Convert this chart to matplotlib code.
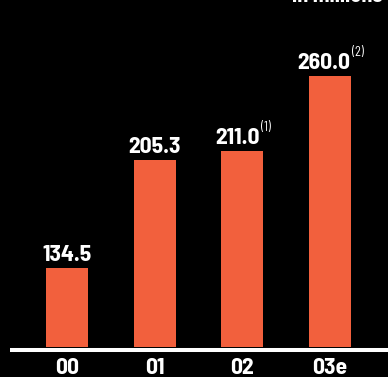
import matplotlib.pyplot as plt
from matplotlib.transforms import blended_transform_factory, offset_copy

# Data
years = ["00", "01", "02", "03e"]
values = [134.5, 205.3, 211.0, 260.0]
notes = ["", "", "(1)", "(2)"]

bar_color = "#F2603D"
font = ["Barlow Semi Condensed", "Barlow Condensed", "DejaVu Sans"]

fig = plt.figure(figsize=(3.88, 3.77), dpi=100, facecolor="black")
ax = fig.add_axes([0, 0, 1, 1], facecolor="black")
ax.set_xlim(-0.764, 3.661)
ax.set_ylim(62.96, 309.75)
ax.axis("off")

base = 82.6
x = range(len(years))
ax.bar(x, [v - base for v in values], bottom=base, width=0.48, color=bar_color)

# white baseline
ax.plot([-0.65, 3.661], [80.6, 80.6], color="white", lw=2.9, solid_capstyle="butt")

renderer = fig.canvas.get_renderer()
for i, v in enumerate(values):
    main = ax.text(i, v, f"{v:.1f}", ha="center", va="baseline",
                   fontsize=17, fontweight="bold", color="white", family=font,
                   transform=offset_copy(ax.transData, fig=fig, x=0, y=6.5, units="dots"))
    if notes[i]:
        sup = ax.text(i, v, notes[i], ha="left", va="baseline", fontsize=9,
                      color="white", family=font,
                      transform=offset_copy(ax.transData, fig=fig, x=0, y=20, units="dots"))
        wm = main.get_window_extent(renderer).width
        ws = sup.get_window_extent(renderer).width
        shift = ws / 2
        main.set_transform(offset_copy(ax.transData, fig=fig, x=-shift, y=6.5, units="dots"))
        sup.set_transform(offset_copy(ax.transData, fig=fig, x=wm / 2 - shift + 1, y=20, units="dots"))

tr = blended_transform_factory(ax.transData, ax.transAxes)
for i, lab in enumerate(years):
    ax.text(i, 3 / 377, lab, ha="center", va="baseline", fontsize=17,
            fontweight="bold", color="white", family=font, transform=tr)

fig.text(382 / 388, 1 - 2 / 377, "in millions", ha="right", va="baseline",
         fontsize=16, fontweight="bold", color="white", family=font)

fig.savefig("out.png", dpi=100, facecolor="black")
